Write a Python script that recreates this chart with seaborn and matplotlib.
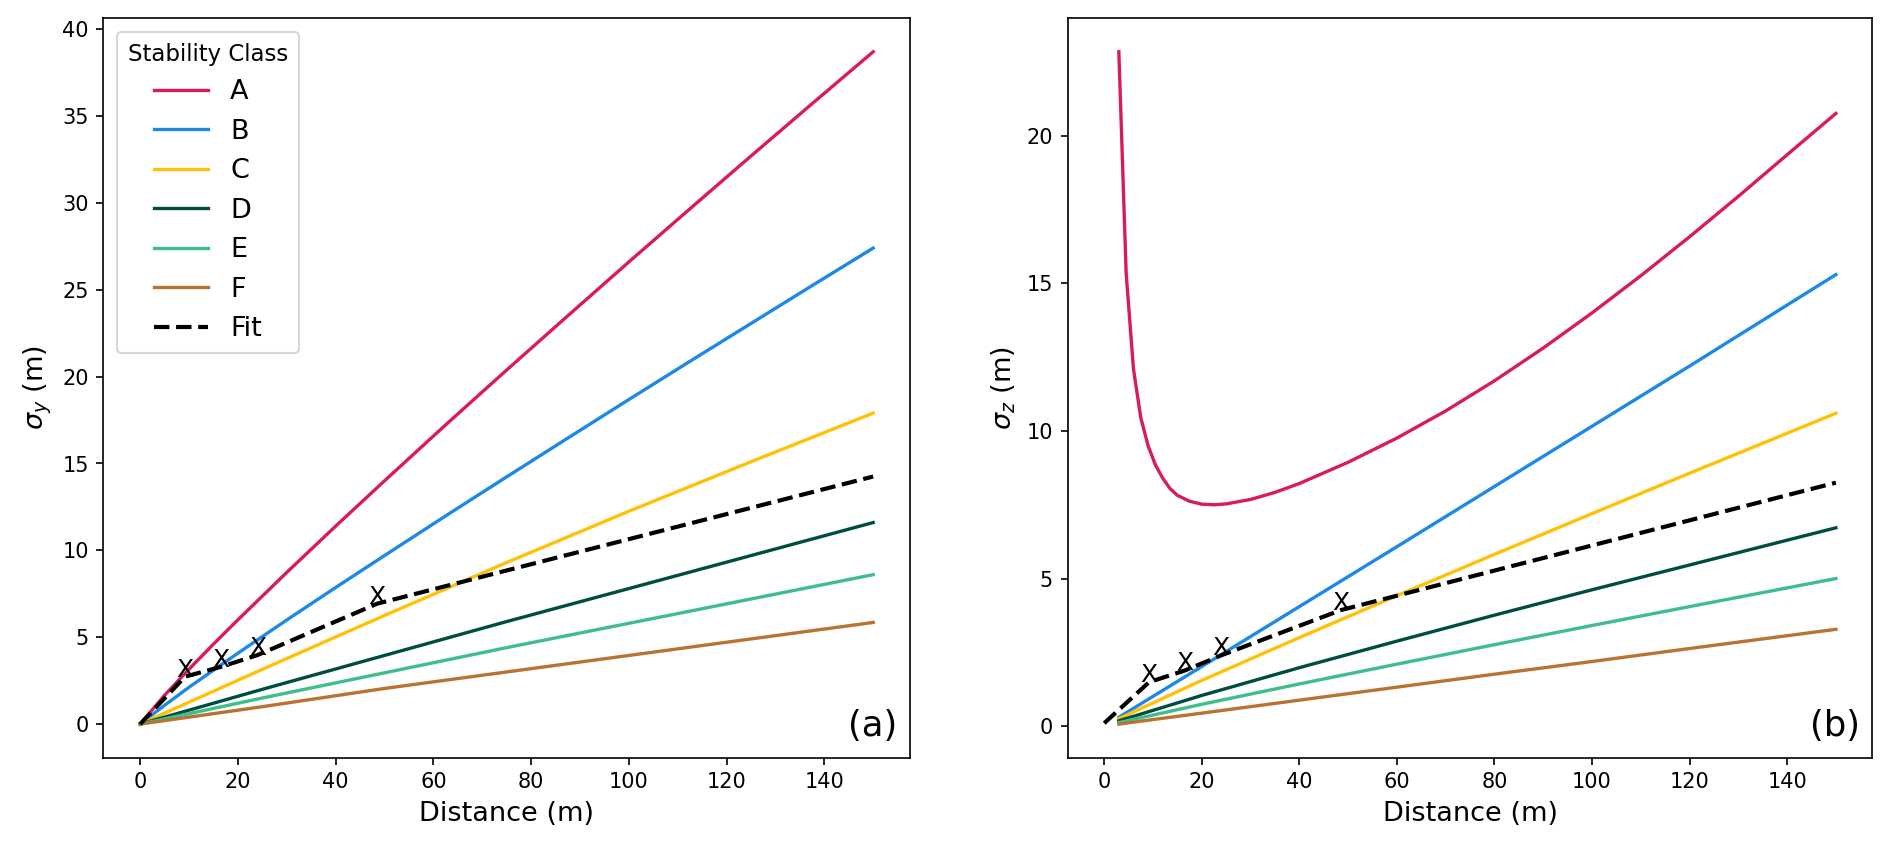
import numpy as np
import matplotlib
matplotlib.use("Agg")
import matplotlib.pyplot as plt
import seaborn as sns

# stability classes and their colours
classes = ["A", "B", "C", "D", "E", "F"]
class_colors = ["#D81B60", "#1E88E5", "#FFC107", "#004D40", "#3DBE8B", "#B87333"]

# (a) horizontal dispersion sigma_y
dist_a_fine = [0, 5, 10, 15, 20, 30, 40, 50, 62.5, 75, 87.5, 100, 112.5, 125, 137.5, 150]
sigma_y_A = [0, 1.66, 3.16, 4.6, 6.0, 8.73, 11.39, 14.0, 17.22, 20.38, 23.5, 26.6,
             29.66, 32.7, 35.71, 38.7]
sigma_y_B = [0, 1.08, 2.12, 3.1, 4.08, 5.99, 7.86, 9.7, 11.98, 14.23, 16.46, 18.68,
             20.88, 23.06, 25.24, 27.4]
dist_a = [0, 25, 50, 75, 100, 125, 150]
sigma_y = {
    "C": [0, 3.15, 6.25, 9.3, 12.25, 15.1, 17.9],
    "D": [0, 2.0, 3.95, 5.9, 7.8, 9.7, 11.6],
    "E": [0, 1.5, 2.95, 4.4, 5.8, 7.2, 8.6],
    "F": [0, 1.0, 2.05, 3.0, 3.95, 4.9, 5.85],
}
fit_x = [0, 9.2, 16.6, 24.0, 48.5, 150]
fit_y_a = [0, 2.73, 3.30, 3.97, 6.93, 14.25]

# (b) vertical dispersion sigma_z
dist_b_A = [3, 4.5, 6, 7.5, 9, 10.5, 12, 13.5, 15, 17.5, 20, 22.5, 25, 30, 35, 40,
            50, 60, 70, 80, 90, 100, 110, 120, 130, 140, 150]
sigma_z_A = [22.85, 15.35, 12.1, 10.45, 9.5, 8.85, 8.4, 8.05, 7.82, 7.62, 7.52, 7.5,
             7.53, 7.68, 7.92, 8.22, 8.94, 9.76, 10.68, 11.7, 12.81, 14.0, 15.26,
             16.58, 17.95, 19.36, 20.76]
dist_b = [3, 20, 40, 60, 80, 100, 120, 150]
sigma_z = {
    "B": [0.3, 2.02, 4.05, 6.08, 8.12, 10.16, 12.2, 15.3],
    "C": [0.25, 1.55, 3.0, 4.42, 5.82, 7.2, 8.57, 10.6],
    "D": [0.18, 1.04, 1.98, 2.88, 3.76, 4.62, 5.46, 6.72],
    "E": [0.12, 0.74, 1.43, 2.1, 2.76, 3.41, 4.05, 5.0],
    "F": [0.07, 0.44, 0.88, 1.32, 1.76, 2.19, 2.63, 3.28],
}
fit_y_b = [0.1, 1.49, 1.89, 2.40, 3.93, 8.25]

# measured points marked with an X
meas_x = [9.2, 16.6, 24.0, 48.5]
meas_y_a = [2.73, 3.30, 3.97, 6.93]
meas_y_b = [1.49, 1.89, 2.40, 3.93]

fig = plt.figure(figsize=(12.613, 5.667), dpi=150)
ax_a = fig.add_axes([0.0547, 0.1086, 0.4262, 0.870])
ax_b = fig.add_axes([0.5643, 0.1086, 0.4254, 0.870])

# panel (a)
sns.lineplot(x=dist_a_fine, y=sigma_y_A, ax=ax_a, color=class_colors[0], label="A", linewidth=1.6)
sns.lineplot(x=dist_a_fine, y=sigma_y_B, ax=ax_a, color=class_colors[1], label="B", linewidth=1.6)
for cls, col in zip(classes[2:], class_colors[2:]):
    sns.lineplot(x=dist_a, y=sigma_y[cls], ax=ax_a, color=col, label=cls, linewidth=1.6)
sns.lineplot(x=fit_x, y=fit_y_a, ax=ax_a, color="black", linestyle="--",
             linewidth=2, label="Fit")
for mx, my in zip(meas_x, meas_y_a):
    ax_a.text(mx, my, "X", ha="center", va="baseline", fontsize=12, zorder=5)

ax_a.set_xlabel("Distance (m)", fontsize=13)
ax_a.set_ylabel(r"$\sigma_y$ (m)", fontsize=13)
ax_a.tick_params(labelsize=10)
ax_a.text(0.985, 0.02, "(a)", transform=ax_a.transAxes, ha="right", va="bottom", fontsize=17)
ax_a.legend(title="Stability Class", loc="upper left", fontsize=13, title_fontsize=11)

# panel (b)
sns.lineplot(x=dist_b_A, y=sigma_z_A, ax=ax_b, color=class_colors[0], linewidth=1.6)
for cls, col in zip(classes[1:], class_colors[1:]):
    sns.lineplot(x=dist_b, y=sigma_z[cls], ax=ax_b, color=col, linewidth=1.6)
sns.lineplot(x=fit_x, y=fit_y_b, ax=ax_b, color="black", linestyle="--", linewidth=2)
for mx, my in zip(meas_x, meas_y_b):
    ax_b.text(mx, my, "X", ha="center", va="baseline", fontsize=12, zorder=5)

ax_b.set_xlabel("Distance (m)", fontsize=13)
ax_b.set_ylabel(r"$\sigma_z$ (m)", fontsize=13)
ax_b.tick_params(labelsize=10)
ax_b.text(0.985, 0.02, "(b)", transform=ax_b.transAxes, ha="right", va="bottom", fontsize=17)
if ax_b.get_legend() is not None:
    ax_b.get_legend().remove()

fig.savefig("out.png", dpi=150)
